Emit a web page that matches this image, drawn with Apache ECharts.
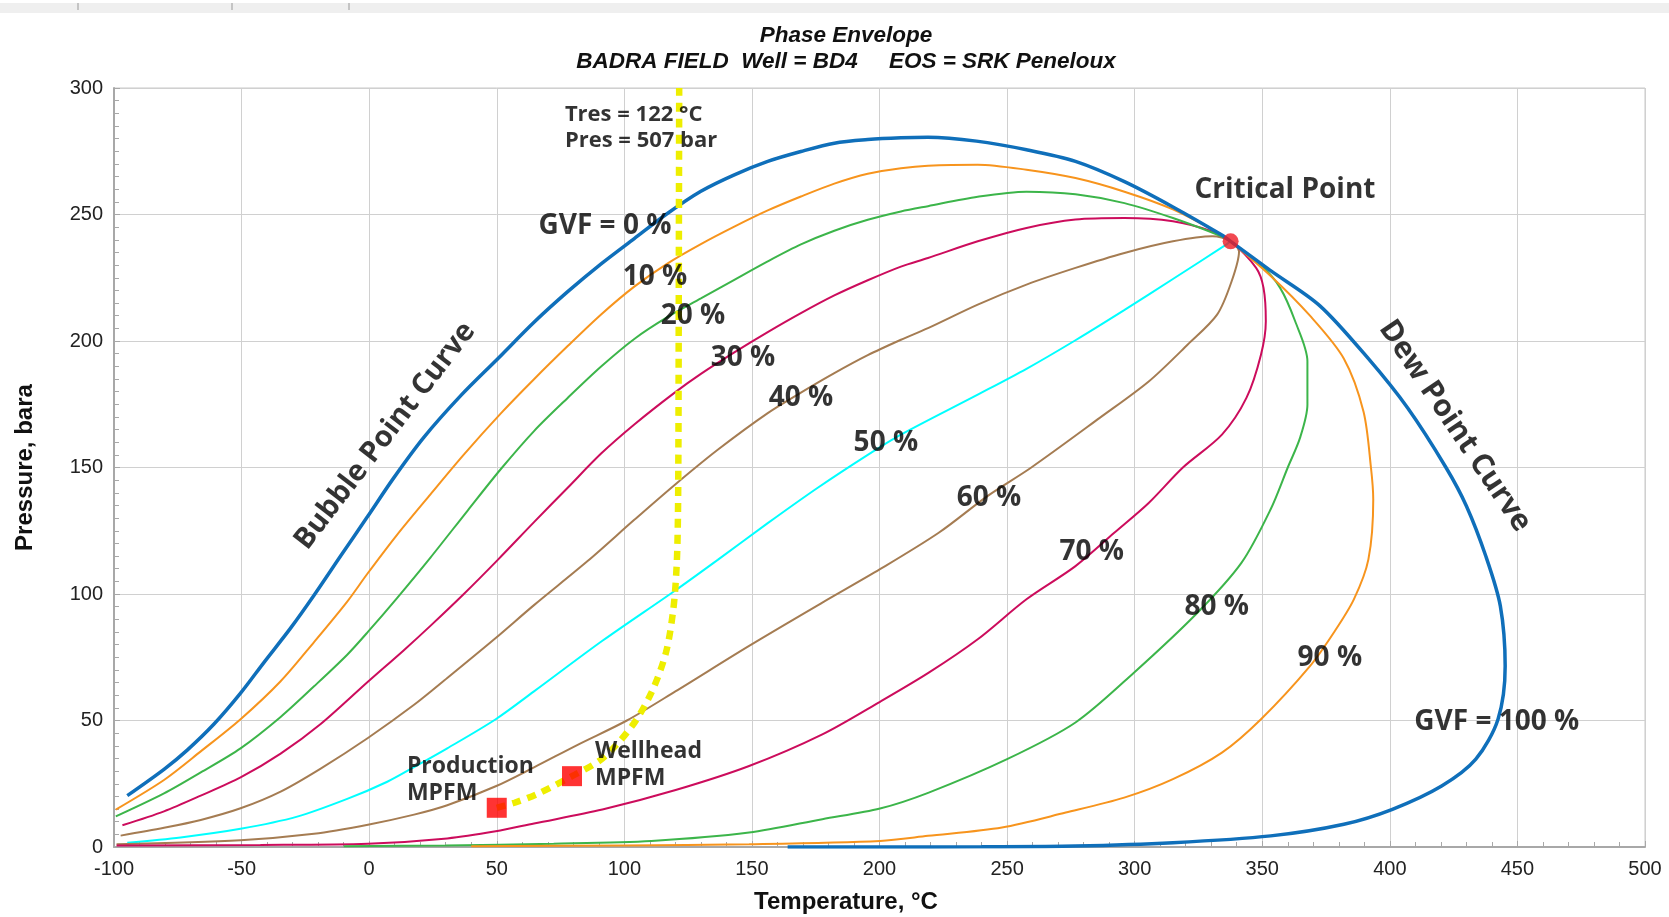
<!DOCTYPE html>
<html lang="en">
<head>
<meta charset="UTF-8">
<title>Phase Envelope</title>
<script src="https://cdn.jsdelivr.net/npm/echarts@6/dist/echarts.min.js"></script>
<style>html,body{margin:0;padding:0;background:#fff;}</style>
</head>
<body>
<div id="main" style="width:1669px;height:917px;"></div>
<script type="text/javascript">
// temperature (°C), pressure (bara) pairs
var bubble0 = [[-94.8,20.3],[-80.4,30.7],[-71.3,38.3],[-60.8,48.6],[-50.4,60.8],[-41.2,73],[-30.8,86.5],[-21.6,99.5],[-11.2,115],[-0.7,130.5],[9.7,146],[21.5,162],[35.8,178.3],[50.4,193],[64.7,207.5],[77.8,219.5],[90.9,230.5],[103.9,240.5],[117,250.5],[130,259.2],[143.1,265.7],[156.2,271],[169.2,274.9],[182.3,278.2],[195.4,279.6],[208.4,280.3],[219,280.5],[238,279],[257.6,275.6],[276.8,271],[296,263],[315,253],[334,242],[337.6,239.4]];
var dew100 = [[337.6,239.4],[353,228],[372.5,214],[391.6,193],[407,173.5],[422,150],[430,134.8],[437.6,115],[443.3,95.3],[445.2,71.5],[442.4,50.5],[433.7,34.7],[420.3,24.1],[401,14.9],[382,9],[353.3,4.4],[315,1.7],[276.8,0.4],[240,0.1],[200,0],[164,0]];
var gvf10 = [[-99.3,14.8],[-80.4,26.5],[-66,37.8],[-50.4,50.5],[-34.7,65.5],[-21.6,81],[-8.6,97],[-0.7,108],[11,123.5],[24.1,139.5],[37,155],[51.7,171.5],[64.7,185],[77.8,198],[90.9,210.5],[103.9,221.5],[117,230.7],[130,238.3],[143.1,245.2],[156.2,251.6],[169.2,257.1],[182.3,262.2],[195.4,266.1],[208.4,268.3],[219,269.3],[238.5,269.7],[257.6,267.7],[276.8,264.4],[296,259],[315,252],[334,242],[337.6,239.4],[353,226],[368.7,210],[382,193],[389.7,172],[392.6,150],[393.5,137.4],[391.6,113.7],[385.9,97.9],[378,84.7],[368.7,71.5],[349.5,50.5],[334.2,37.3],[315,26.8],[295.9,19.5],[273,13.6],[248,7.7],[219,4.4],[200.2,2.4],[148.9,1.1],[100,0.6],[40,0.3]];
var gvf20 = [[-99.3,12.1],[-80.4,21.2],[-66,29.5],[-50.4,39],[-34.7,51.4],[-21.6,63.5],[-8.6,76],[-0.5,85],[11,98.5],[24.1,114.5],[38.6,133],[51.7,149.5],[64.7,164.5],[77.8,177.5],[90.9,189.9],[103.9,200.8],[117,209.5],[130,216.8],[143.1,224.2],[156.2,231.5],[169.2,238.2],[182.3,243.6],[195.4,247.9],[208.4,251.2],[219,253.3],[238.5,257],[257.6,259],[276.8,258],[296,254.5],[315,248.6],[334,241.4],[337.6,239.4],[349.5,230],[357,221],[362.9,207.8],[367.7,192],[367.7,174.8],[364.8,161.7],[360,150],[353.3,133.5],[341.9,112.4],[324.6,92.6],[299.7,68.9],[276.8,49.2],[250,34.7],[219.3,21.5],[200.2,15.2],[177.6,11],[148.9,5.7],[110.6,2.4],[72.3,1.3],[30,0.6],[-10,0.3]];
var gvf30 = [[-96.7,8.6],[-80.4,14.1],[-66,20.3],[-50.4,27.5],[-34.7,36.9],[-19,48.6],[-0.5,65.3],[13.6,77.8],[24.1,87.5],[37.1,100],[50.4,113.5],[64.7,128.5],[77.8,142],[90.9,155.5],[103.9,167],[119.6,179.5],[130,187],[143.1,195.5],[156.2,203.5],[169.2,211],[182.3,218],[195.4,224],[208.4,229.4],[219,232.8],[238.5,239.4],[257.6,244.7],[276.8,248],[296,248.6],[315,247.3],[330.4,243.3],[337.6,239.4],[347.6,228.9],[350.5,221],[351.4,207.8],[349.5,194.6],[343.8,177.5],[334.2,163],[318.9,150],[305.5,136],[292,124.2],[276.8,111],[257.6,97.9],[238.5,82.1],[219.3,68.9],[200.2,57.4],[177.6,44.5],[148.9,32],[120.1,22.5],[91.4,14.8],[64.6,9.3],[49.6,6.2],[30.6,3.4],[-0.5,1.3],[-42.6,0.8],[-99,0.6]];
var gvf40 = [[-97.4,4.5],[-80.4,7.6],[-66,10.7],[-50.4,15.3],[-34.7,21.9],[-19,31],[-0.5,43.1],[17.6,56.2],[30.6,66.8],[49.6,82.6],[64.6,95.6],[85.6,113],[103.9,129.3],[119.6,143],[136.6,157],[156.2,171.5],[169.2,179.6],[182.3,187.3],[195.4,194.4],[208.4,200.5],[219,205.1],[238.5,214.4],[257.6,222.3],[276.8,228.9],[296,234.8],[315,239.4],[330.4,241.4],[337.6,239.4],[340.9,235.4],[338,223.6],[332.3,210.4],[320.8,198.6],[305.5,184],[286.3,169.6],[259.5,150],[242.3,138.7],[223.2,124.2],[200.2,109.8],[177.6,96.6],[148.9,79.5],[120,61.5],[101,50],[81.9,40.5],[64.6,31.5],[49.6,24],[30.6,16.5],[17.6,12.8],[-0.5,8.8],[-21.6,5.2],[-50.4,2.7],[-99,1.1]];
var gvf50 = [[-94.8,1.7],[-73.9,3.8],[-50.4,7.2],[-28.2,12],[-8.6,19],[7.1,25.8],[17.6,31.6],[30.6,39],[49.6,50.5],[64.6,61.5],[91.4,81.5],[120.1,101.5],[136.6,113.5],[156.2,128],[175.8,142],[195.4,155],[208.4,163],[238.5,178.8],[257.6,189],[276.8,200.3],[295.9,212.2],[315,224.5],[336,238.2],[337.6,239.4]];
var tresPath = [[50,15.5],[57,17.5],[66,21],[79.5,28],[91.4,35],[103,47.8],[110.6,61],[116.3,76.8],[119.2,94],[120.5,111],[121,130],[121.2,160],[121.3,200],[121.4,250],[121.5,300]];
var meters = [[50,15.5],[79.5,28]];
var criticalPoint = [[337.6,239.4]];

var xTicks = {min: -100, max: 500, step: 50};
var yTicks = {min: 0, max: 300, step: 50};

// text notes placed in chart units
var notes = [
    {text: 'Tres = 122 °C\nPres = 507 bar', at: [76.7, 284.4], size: 22, lh: 26, align: 'left'},
    {text: 'GVF = 0 %', at: [92.4, 245.5], size: 28},
    {text: '10 %', at: [112, 225.3], size: 28},
    {text: '20 %', at: [126.9, 209.9], size: 28},
    {text: '30 %', at: [146.5, 193.3], size: 28},
    {text: '40 %', at: [169.2, 177.5], size: 28},
    {text: '50 %', at: [202.5, 159.7], size: 28},
    {text: '60 %', at: [242.9, 137.9], size: 28},
    {text: '70 %', at: [283.2, 116.6], size: 28},
    {text: '80 %', at: [332.2, 94.9], size: 28},
    {text: '90 %', at: [376.5, 74.7], size: 28},
    {text: 'GVF = 100 %', at: [441.9, 49.4], size: 28},
    {text: 'Critical Point', at: [358.9, 259.7], size: 28},
    {text: 'Bubble Point Curve', at: [6.2, 162.5], size: 29, rotate: 52.5},
    {text: 'Dew Point Curve', at: [425.5, 166.4], size: 30, rotate: -56},
    {text: 'Production\nMPFM', at: [14.8, 26.5], size: 23, lh: 27, align: 'left'},
    {text: 'Wellhead\nMPFM', at: [88.5, 32.4], size: 23, lh: 27, align: 'left'}
];

var myChart = echarts.init(document.getElementById('main'));

function curve(name, data, color, width) {
    return {
        name: name, type: 'line', data: data, symbol: 'none', smooth: 0.3,
        lineStyle: {color: color, width: width}, silent: true
    };
}

var axisFont = {fontFamily: 'Liberation Sans, Arial, sans-serif', fontSize: 20, color: '#222'};
var titleFont = {fontFamily: 'Liberation Sans, Arial', fontSize: 22.5, fontStyle: 'italic', fontWeight: 'bold', color: '#111'};

var option = {
    animation: false,
    backgroundColor: '#fff',
    title: [{
        text: 'Phase Envelope', left: 846, top: 24, textAlign: 'center', padding: 0, textStyle: titleFont
    }, {
        text: 'BADRA FIELD  Well = BD4     EOS = SRK Peneloux', left: 846, top: 50, textAlign: 'center', padding: 0, textStyle: titleFont
    }],
    graphic: [
        {type: 'rect', left: 0, top: 3, shape: {width: 1669, height: 10}, style: {fill: '#efefef'}},
        {type: 'line', shape: {x1: 78, y1: 3, x2: 78, y2: 10}, style: {stroke: '#999'}},
        {type: 'line', shape: {x1: 232, y1: 3, x2: 232, y2: 10}, style: {stroke: '#999'}},
        {type: 'line', shape: {x1: 349, y1: 3, x2: 349, y2: 10}, style: {stroke: '#999'}},
        {
            type: 'text', x: 846, y: 902,
            style: {text: 'Temperature, °C', textAlign: 'center', textVerticalAlign: 'middle',
                font: 'bold 24px "Liberation Sans", Arial, sans-serif', fill: '#111'}
        }
    ],
    grid: {left: 114, right: 24, top: 88, bottom: 70, show: true, borderColor: '#c8c8c8', borderWidth: 1},
    xAxis: {
        type: 'value', min: xTicks.min, max: xTicks.max, interval: xTicks.step,
        axisLine: {show: true, onZero: false, lineStyle: {color: '#a8a8a8', width: 2}},
        axisTick: {show: true, inside: true, length: 6, lineStyle: {color: '#a8a8a8'}},
        minorTick: {show: true, splitNumber: 5, length: 5, lineStyle: {color: '#a8a8a8'}},
        axisLabel: Object.assign({margin: 12}, axisFont),
        splitLine: {show: true, lineStyle: {color: '#d0d0d0', width: 1}}
    },
    yAxis: {
        type: 'value', min: yTicks.min, max: yTicks.max, interval: yTicks.step,
        name: 'Pressure, bara', nameLocation: 'middle', nameGap: 77,
        nameTextStyle: {fontFamily: 'Liberation Sans, Arial, sans-serif', fontSize: 24, fontWeight: 'bold', color: '#111'},
        axisLine: {show: true, onZero: false, lineStyle: {color: '#a8a8a8', width: 2}},
        axisTick: {show: true, inside: true, length: 6, lineStyle: {color: '#a8a8a8'}},
        minorTick: {show: true, splitNumber: 10, length: 5, lineStyle: {color: '#a8a8a8'}},
        axisLabel: Object.assign({margin: 11}, axisFont),
        splitLine: {show: true, lineStyle: {color: '#d0d0d0', width: 1}}
    },
    series: [
        curve('50 %', gvf50, '#00ffff', 2),
        curve('40 / 60 %', gvf40, '#a57c52', 2),
        curve('30 / 70 %', gvf30, '#cc0c5c', 2),
        curve('20 / 80 %', gvf20, '#3cb54a', 2),
        curve('10 / 90 %', gvf10, '#f7941d', 2),
        curve('GVF = 0 %', bubble0, '#0f6fba', 3.5),
        curve('GVF = 100 %', dew100, '#0f6fba', 3.5),
        {
            name: 'Tres', type: 'line', data: tresPath, symbol: 'none', smooth: 0.3, silent: true, z: 3,
            lineStyle: {color: '#eeee00', width: 6.5, type: [9, 7]}
        },
        {
            name: 'MPFM', type: 'scatter', data: meters, symbol: 'rect', symbolSize: 20, z: 4,
            itemStyle: {color: '#ff0000'}
        },
        {
            name: 'Critical', type: 'scatter', data: criticalPoint, symbol: 'circle', symbolSize: 16, z: 4,
            itemStyle: {color: '#ee1c25'}
        },
        {
            name: 'notes', type: 'scatter', symbolSize: 1, z: 5, silent: true,
            itemStyle: {color: 'rgba(0,0,0,0)'},
            data: notes.map(function (n) {
                return {
                    value: n.at,
                    label: {
                        show: true, position: 'inside', formatter: n.text,
                        fontFamily: 'Open Sans, Noto Sans, sans-serif', fontWeight: 'bold',
                        fontSize: n.size, color: '#000', lineHeight: n.lh || Math.round(n.size * 1.2),
                        align: n.align || 'center', rotate: n.rotate || 0
                    }
                };
            })
        }
    ]
};

myChart.setOption(option);
</script>
</body>
</html>
